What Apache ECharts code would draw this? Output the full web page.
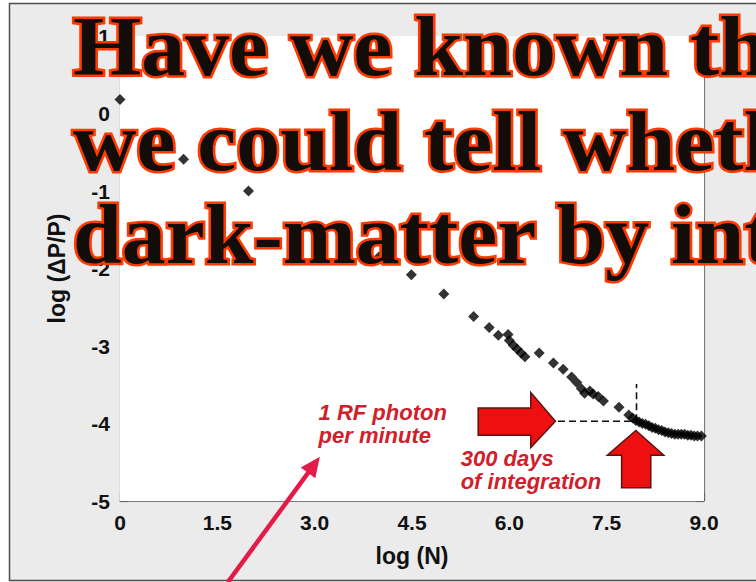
<!DOCTYPE html>
<html>
<head>
<meta charset="utf-8">
<script src="https://cdn.jsdelivr.net/npm/echarts@6/dist/echarts.min.js"></script>
<style>
html,body{margin:0;padding:0;background:#fff;}
#c{width:756px;height:582px;}
</style>
</head>
<body>
<div id="c"></div>
<script>
// ---- data ----
const logN = [0, 0.98, 1.98, 2.98, 3.99, 4.49, 4.99, 5.45, 5.69, 5.83, 5.98, 6.00, 6.06, 6.12, 6.18, 6.24,
  6.46, 6.68, 6.83, 6.96, 7.04, 7.11, 7.16, 7.24, 7.29, 7.37, 7.45, 7.69, 7.84, 7.90, 7.95, 8.00, 8.05,
  8.10, 8.15, 8.20, 8.25, 8.30, 8.35, 8.40, 8.45, 8.50, 8.55, 8.60, 8.65, 8.70, 8.75, 8.80, 8.85, 8.90, 8.96];
const logDP = [0.18, -0.59, -1.00, -1.46, -1.85, -2.08, -2.33, -2.62, -2.76, -2.86, -2.85, -2.93, -2.99, -3.04, -3.09, -3.14,
  -3.09, -3.22, -3.30, -3.40, -3.47, -3.55, -3.61, -3.58, -3.62, -3.65, -3.71, -3.79, -3.89, -3.93, -3.96, -3.98, -4.00,
  -4.01, -4.03, -4.05, -4.06, -4.08, -4.09, -4.11, -4.12, -4.13, -4.14, -4.14, -4.14, -4.14, -4.15, -4.15, -4.16, -4.16, -4.16];
const xTicks = [0, 1.5, 3.0, 4.5, 6.0, 7.5, 9.0];
const yTicks = [-5, -4, -3, -2, -1, 0, 1];
const guideH = [[6.75, -3.97], [7.96, -3.97]];
const guideV = [[7.96, -3.97], [7.96, -3.49]];
const titleLines = ['Have we known th', 'we could tell wheth', 'dark-matter by inte'];
const noteRF = ['1 RF photon', 'per minute'];
const noteDays = ['300 days', 'of integration'];
const xName = 'log (N)';
const yName = 'log (\u0394P/P)';

// annotation shapes in data coordinates
const arrowRight = [[5.52,-3.80],[6.33,-3.80],[6.33,-3.60],[6.71,-3.97],[6.33,-4.31],[6.33,-4.15],[5.52,-4.15]];
const arrowUp = [[7.73,-4.83],[7.73,-4.41],[7.51,-4.41],[7.95,-4.09],[8.38,-4.41],[8.18,-4.41],[8.18,-4.83]];
const pinkFrom = [1.66, -6.05], pinkTo = [3.08, -4.43];

const points = logN.map((x, i) => [x, logDP[i]]);

const chart = echarts.init(document.getElementById('c'), null, {renderer: 'svg', width: 756, height: 582});
const FONT = '"Liberation Sans", Arial, Helvetica, sans-serif';
const axisLineStyle = {color: '#7a7a7a', width: 1.2};
const tickStyle = {color: '#666', width: 1.2};
function xAx(pos, show) {
  return {
    type: 'value', min: 0, max: 9, interval: 1.5, position: pos,
    axisLine: {show: true, onZero: false, lineStyle: axisLineStyle},
    axisTick: {show: true, inside: true, length: 8, lineStyle: tickStyle},
    minorTick: {show: true, splitNumber: 3, length: 5, lineStyle: tickStyle},
    splitLine: {show: false},
    axisLabel: show ? {
      show: true, margin: 11, fontSize: 21, fontWeight: 'bold', color: '#111', fontFamily: FONT,
      formatter: v => { const t = xTicks.find(k => Math.abs(k - v) < 1e-6); return t === 0 ? '0' : (t !== undefined ? t.toFixed(1) : ''); }
    } : {show: false},
    name: show ? xName : '', nameLocation: 'middle', nameGap: 43,
    nameTextStyle: {fontSize: 23, fontWeight: 'bold', color: '#111', fontFamily: FONT}
  };
}
function yAx(pos, show) {
  return {
    type: 'value', min: -5, max: 1, interval: 1, position: pos,
    axisLine: {show: true, onZero: false, lineStyle: axisLineStyle},
    axisTick: {show: true, inside: true, length: 8, lineStyle: tickStyle},
    minorTick: {show: true, splitNumber: 5, length: 5, lineStyle: tickStyle},
    splitLine: {show: false},
    axisLabel: show ? {
      show: true, margin: 10, fontSize: 21, fontWeight: 'bold', color: '#111', fontFamily: FONT,
      formatter: v => { const t = yTicks.find(k => Math.abs(k - v) < 1e-6); return t !== undefined ? String(t) : ''; }
    } : {show: false},
    name: show ? yName : '', nameLocation: 'middle', nameGap: 52, nameRotate: 90,
    nameTextStyle: {fontSize: 23, fontWeight: 'bold', color: '#111', fontFamily: FONT}
  };
}

chart.setOption({
  animation: false,
  backgroundColor: 'transparent',
  grid: {left: 120, top: 36, width: 584, height: 465, show: true, backgroundColor: '#fff', borderWidth: 0, z: 1},
  xAxis: [xAx('bottom', true), xAx('top', false)],
  yAxis: [yAx('left', true), yAx('right', false)],
  series: [
    {type: 'line', data: guideH, xAxisIndex: 0, yAxisIndex: 0, symbol: 'none', z: 2,
     lineStyle: {color: '#111', width: 1.6, type: [7, 4]}},
    {type: 'line', data: guideV, xAxisIndex: 0, yAxisIndex: 0, symbol: 'none', z: 2,
     lineStyle: {color: '#111', width: 1.6, type: [7, 4]}},
    {type: 'scatter', data: points, xAxisIndex: 0, yAxisIndex: 0, symbol: 'diamond', symbolSize: 11,
     itemStyle: {color: '#000'}, z: 3}
  ]
});

const P = p => chart.convertToPixel({xAxisIndex: 0, yAxisIndex: 0}, p);
const graphics = [];
// slide background and border
graphics.push({type: 'rect', z: -10, silent: true, shape: {x: 9.5, y: 3.5, width: 760, height: 577},
  style: {fill: '#ebebeb', stroke: '#4d4d4d', lineWidth: 1.5}});
// red block arrows
[arrowRight, arrowUp].forEach(a => graphics.push({type: 'polygon', z: 50,
  shape: {points: a.map(P)}, style: {fill: '#ee1010', stroke: '#5a1212', lineWidth: 1.5}}));
// annotation texts (two-line blocks)
const redText = '#d0202a';
const rf = P([3.06, -3.97]);
graphics.push({type: 'text', z: 50, x: rf[0], y: rf[1] - 20,
  style: {text: noteRF.join('\n'), font: 'italic bold 22px ' + FONT, lineHeight: 23, fill: redText,
    verticalAlign: 'top', align: 'left'}});
const dd = P([5.25, -4.45]);
graphics.push({type: 'text', z: 50, x: dd[0], y: dd[1] - 11,
  style: {text: noteDays.join('\n'), font: 'italic bold 22px ' + FONT, lineHeight: 23, fill: redText,
    verticalAlign: 'top', align: 'left'}});
// pink pointer arrow
const A = P(pinkFrom), T = P(pinkTo);
const dx = T[0] - A[0], dy = T[1] - A[1], L = Math.hypot(dx, dy), ux = dx / L, uy = dy / L;
const hl = 20, hw = 9;
graphics.push({type: 'line', z: 60, shape: {x1: A[0], y1: A[1], x2: T[0] - ux * hl * 0.7, y2: T[1] - uy * hl * 0.7},
  style: {stroke: '#e31b48', lineWidth: 4.5}});
graphics.push({type: 'polygon', z: 60, shape: {points: [T,
  [T[0] - ux * hl - uy * hw, T[1] - uy * hl + ux * hw],
  [T[0] - ux * hl + uy * hw, T[1] - uy * hl - ux * hw]]}, style: {fill: '#e31b48'}});
// title
const titleY = [47, 142, 235];
titleLines.forEach((t, i) => graphics.push({type: 'text', z: 100, x: 73, y: titleY[i], scaleX: 1.045, scaleY: 1,
  style: {text: t, font: 'bold 84px "Liberation Serif", "Times New Roman", serif', fill: '#120d08',
    stroke: '#ff3a00', lineWidth: 5, strokeFirst: true, verticalAlign: 'middle', align: 'left',
    shadowColor: 'rgba(0,0,0,0.35)', shadowBlur: 4, shadowOffsetX: 2, shadowOffsetY: 3}}));

chart.setOption({graphic: graphics});
</script>
</body>
</html>
